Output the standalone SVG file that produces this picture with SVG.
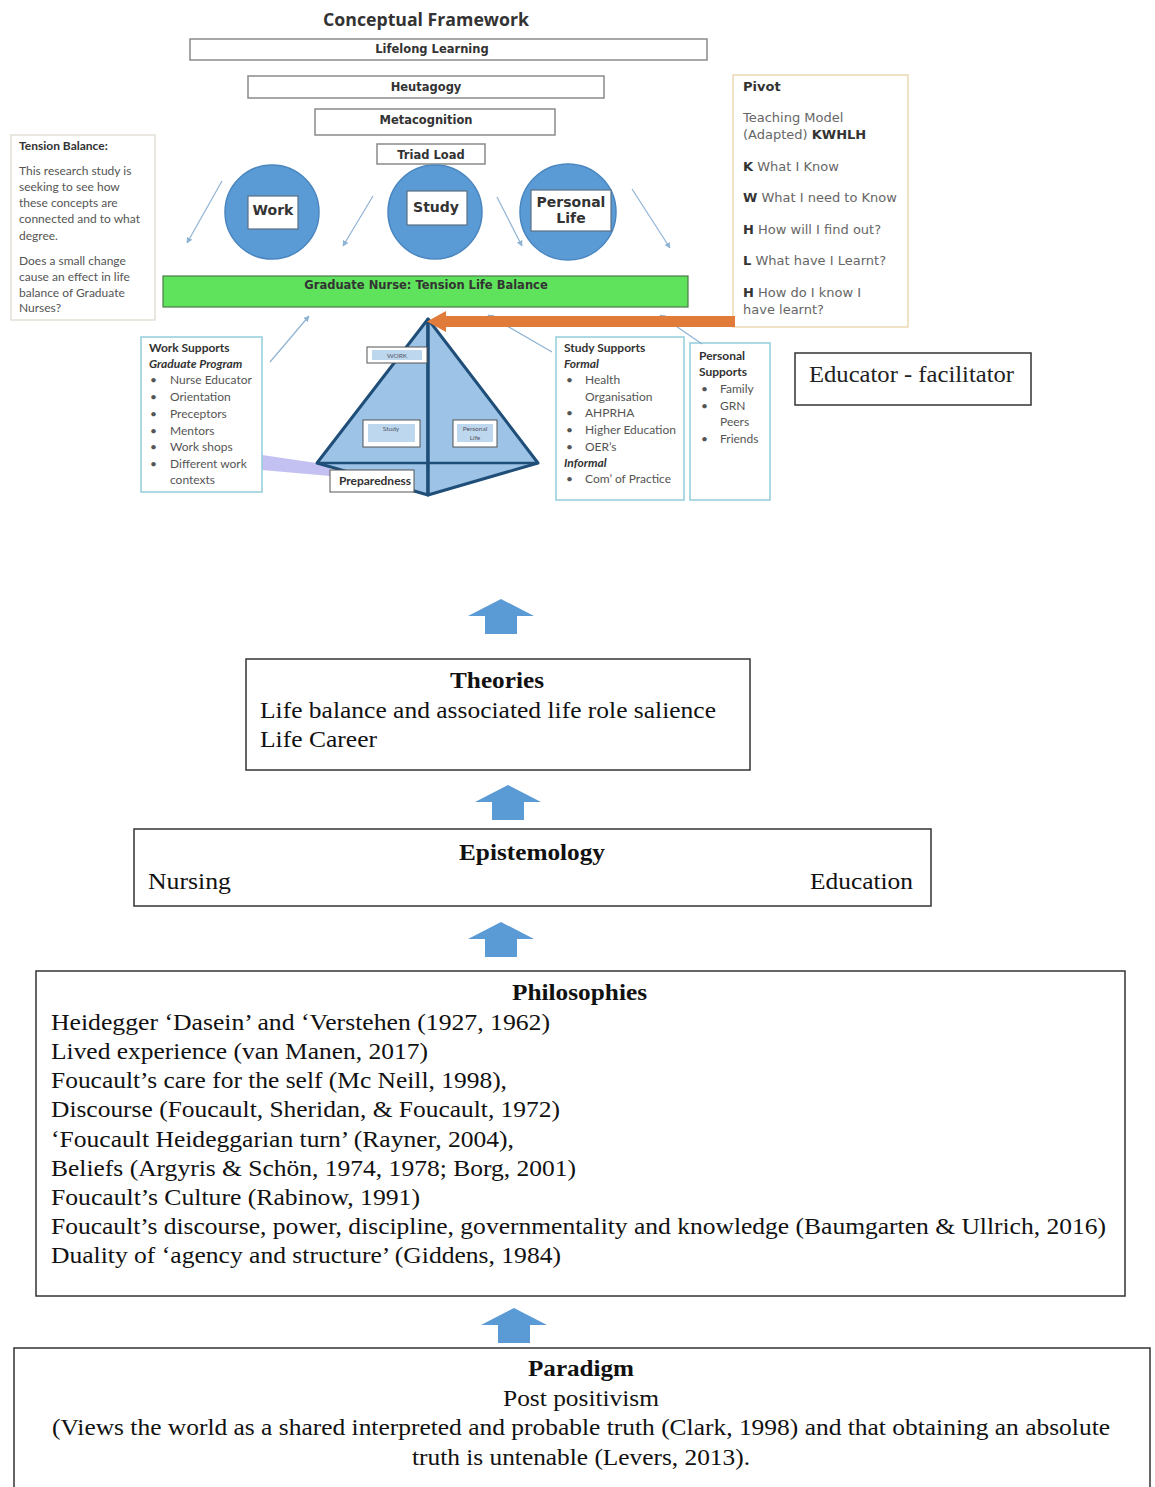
<svg xmlns="http://www.w3.org/2000/svg" width="1155" height="1487" viewBox="0 0 1155 1487">
  <style>
    .hdr { font-family: "DejaVu Sans", Verdana, sans-serif; font-weight: bold; font-size: 11.5px; fill: #333; text-anchor: middle; }
    .cl { font-size: 14px; }
    .box { fill: #fff; stroke: #8a8a8a; stroke-width: 1.5; }
    .circ { fill: #5b9bd5; stroke: #4a86bf; stroke-width: 1.5; }
    .inbox { fill: #fff; stroke: #5a6f85; stroke-width: 1.2; }
    .cal { font-family: Lato, "Open Sans", sans-serif; font-size: 12px; fill: #555; }
    .calb { font-family: Lato, "Open Sans", sans-serif; font-size: 12px; font-weight: bold; fill: #333; }
    .calbi { font-family: Lato, "Open Sans", sans-serif; font-size: 12px; font-weight: bold; font-style: italic; fill: #333; }
    .ver { font-family: "DejaVu Sans", Verdana, sans-serif; font-size: 13px; fill: #666; }
    .verb { font-family: "DejaVu Sans", Verdana, sans-serif; font-size: 13px; font-weight: bold; fill: #333; }
    .sup { fill: #fff; stroke: #93cddd; stroke-width: 1.5; }
    .thin { stroke: #8fb3d3; stroke-width: 1.2; fill: none; marker-end: url(#tip); }
    .frame { fill: #fff; stroke: #333; stroke-width: 1.5; }
    .tnr { font-family: "Liberation Serif", "Times New Roman", serif; font-size: 23px; fill: #111; }
    .tnrb { font-family: "Liberation Serif", "Times New Roman", serif; font-size: 23px; font-weight: bold; fill: #111; }
    .up { fill: #5b9bd5; }
    .pyr { fill: #9dc3e6; stroke: #1f4e79; stroke-width: 3; stroke-linejoin: round; }
    .plab { fill: #fff; stroke: #555; stroke-width: 1; }
    .plabin { fill: #bdd7ee; }
  </style>
  <defs>
    <marker id="tip" viewBox="0 0 10 10" refX="9" refY="5" markerWidth="5" markerHeight="5" orient="auto">
      <path d="M0,0 L10,5 L0,10 z" fill="#8fb3d3"/>
    </marker>
    <path id="uparrow" d="M-33,17 L0,0 L33,17 L16,17 L16,35 L-16,35 L-16,17 z"/>
  </defs>

  <!-- ===== Conceptual framework (top) ===== -->
  <text x="426" y="26" font-family="'Open Sans', 'DejaVu Sans', sans-serif" font-weight="bold" font-size="17.7" fill="#333" text-anchor="middle">Conceptual Framework</text>

  <g id="lifelong">
    <rect class="box" x="190" y="39" width="517" height="21"/>
    <text class="hdr" x="432" y="53">Lifelong Learning</text>
  </g>
  <g id="heutagogy">
    <rect class="box" x="248" y="76" width="356" height="22"/>
    <text class="hdr" x="426" y="91">Heutagogy</text>
  </g>
  <g id="metacognition">
    <rect class="box" x="315" y="109" width="240" height="26"/>
    <text class="hdr" x="426" y="124">Metacognition</text>
  </g>
  <g id="triad-load">
    <rect class="box" x="377" y="144" width="108" height="20"/>
    <text class="hdr" x="431" y="159" font-size="12.5">Triad Load</text>
  </g>

  <g id="work-circle">
    <circle class="circ" cx="272" cy="212" r="47"/>
    <rect class="inbox" x="248" y="196" width="50" height="33"/>
    <text class="hdr cl" x="273" y="215">Work</text>
  </g>
  <g id="study-circle">
    <circle class="circ" cx="435" cy="212" r="47"/>
    <rect class="inbox" x="407" y="191" width="60" height="34"/>
    <text class="hdr cl" x="436" y="212">Study</text>
  </g>
  <g id="personal-circle">
    <circle class="circ" cx="568" cy="212" r="48"/>
    <rect class="inbox" x="531" y="190" width="80" height="41"/>
    <text class="hdr cl" x="571" y="207">Personal</text>
    <text class="hdr cl" x="571" y="223">Life</text>
  </g>

  <g id="balance-bar">
    <rect x="163" y="276" width="525" height="31" fill="#5fe35c" stroke="#4a7a4a" stroke-width="1.2"/>
    <text class="hdr" x="426" y="289" font-size="13.5" fill="#222">Graduate Nurse: Tension Life Balance</text>
  </g>

  <g id="tension-balance">
    <rect x="11" y="135" width="144" height="185" fill="#fff" stroke="#e4e0d6" stroke-width="1.5"/>
    <text class="calb" x="19" y="150" font-size="11">Tension Balance:</text>
    <text class="cal" x="19" y="175">This research study is</text>
    <text class="cal" x="19" y="191">seeking to see how</text>
    <text class="cal" x="19" y="207">these concepts are</text>
    <text class="cal" x="19" y="223">connected and to what</text>
    <text class="cal" x="19" y="240">degree.</text>
    <text class="cal" x="19" y="265">Does a small change</text>
    <text class="cal" x="19" y="281">cause an effect in life</text>
    <text class="cal" x="19" y="297">balance of Graduate</text>
    <text class="cal" x="19" y="312">Nurses?</text>
  </g>

  <g id="pivot">
    <rect x="733" y="75" width="175" height="252" fill="#fff" stroke="#ead9b4" stroke-width="1.5"/>
    <text class="verb" x="743" y="91">Pivot</text>
    <text class="ver" x="743" y="122">Teaching Model</text>
    <text class="ver" x="743" y="139">(Adapted) <tspan class="verb">KWHLH</tspan></text>
    <text class="ver" x="743" y="171"><tspan class="verb">K</tspan> What I Know</text>
    <text class="ver" x="743" y="202"><tspan class="verb">W</tspan> What I need to Know</text>
    <text class="ver" x="743" y="234"><tspan class="verb">H</tspan> How will I find out?</text>
    <text class="ver" x="743" y="265"><tspan class="verb">L</tspan> What have I Learnt?</text>
    <text class="ver" x="743" y="297"><tspan class="verb">H</tspan> How do I know I</text>
    <text class="ver" x="743" y="314">have learnt?</text>
  </g>

  <!-- lavender band linking work supports to preparedness -->
  <polygon points="262,455 330,465 330,476 262,470" fill="#b9b6ee" opacity="0.85"/>

  <g id="pyramid">
    <polygon class="pyr" points="428,319 317,463 428,495"/>
    <polygon class="pyr" points="428,319 538,463 428,495"/>
    <line x1="317" y1="463" x2="538" y2="463" stroke="#1f4e79" stroke-width="2.5"/>
    <line x1="428" y1="319" x2="428" y2="495" stroke="#1f4e79" stroke-width="3"/>
    <rect class="plab" x="367" y="347" width="60" height="16"/>
    <rect class="plabin" x="372" y="350" width="50" height="10"/>
    <text x="397" y="358" font-family="Lato, sans-serif" font-size="6.5" fill="#556" text-anchor="middle">WORK</text>
    <rect class="plab" x="363" y="420" width="57" height="27"/>
    <rect class="plabin" x="368" y="424" width="47" height="18"/>
    <text x="391" y="431" font-family="Lato, sans-serif" font-size="6.5" fill="#556" text-anchor="middle">Study</text>
    <rect class="plab" x="453" y="420" width="44" height="27"/>
    <rect class="plabin" x="457" y="424" width="36" height="18"/>
    <text x="475" y="431" font-family="Lato, sans-serif" font-size="6.5" fill="#556" text-anchor="middle">Personal</text>
    <text x="475" y="440" font-family="Lato, sans-serif" font-size="6.5" fill="#556" text-anchor="middle">Life</text>
    <rect class="plab" x="330" y="470" width="84" height="22"/>
    <text x="375" y="485" font-family="Lato, sans-serif" font-size="12" font-weight="bold" fill="#333" text-anchor="middle">Preparedness</text>
  </g>

  <g id="work-supports">
    <rect class="sup" x="141" y="337" width="121" height="155"/>
    <text class="calb" x="149" y="352">Work Supports</text>
    <text class="calbi" x="149" y="368">Graduate Program</text>
    <g class="cal">
      <text x="150" y="384">•</text><text x="170" y="384">Nurse Educator</text>
      <text x="150" y="401">•</text><text x="170" y="401">Orientation</text>
      <text x="150" y="418">•</text><text x="170" y="418">Preceptors</text>
      <text x="150" y="435">•</text><text x="170" y="435">Mentors</text>
      <text x="150" y="451">•</text><text x="170" y="451">Work shops</text>
      <text x="150" y="468">•</text><text x="170" y="468">Different work</text>
      <text x="170" y="484">contexts</text>
    </g>
  </g>

  <g id="study-supports">
    <rect class="sup" x="556" y="337" width="128" height="163"/>
    <text class="calb" x="564" y="352">Study Supports</text>
    <text class="calbi" x="564" y="368">Formal</text>
    <g class="cal">
      <text x="566" y="384">•</text><text x="585" y="384">Health</text>
      <text x="585" y="401">Organisation</text>
      <text x="566" y="417">•</text><text x="585" y="417">AHPRHA</text>
      <text x="566" y="434">•</text><text x="585" y="434">Higher Education</text>
      <text x="566" y="451">•</text><text x="585" y="451">OER’s</text>
    </g>
    <text class="calbi" x="564" y="467">Informal</text>
    <g class="cal">
      <text x="566" y="483">•</text><text x="585" y="483">Com’ of Practice</text>
    </g>
  </g>

  <g id="personal-supports">
    <rect class="sup" x="690" y="343" width="80" height="157"/>
    <text class="calb" x="699" y="360">Personal</text>
    <text class="calb" x="699" y="376">Supports</text>
    <g class="cal">
      <text x="701" y="393">•</text><text x="720" y="393">Family</text>
      <text x="701" y="410">•</text><text x="720" y="410">GRN</text>
      <text x="720" y="426">Peers</text>
      <text x="701" y="443">•</text><text x="720" y="443">Friends</text>
    </g>
  </g>

  <g id="educator">
    <rect x="795" y="353" width="236" height="52" fill="#fff" stroke="#333" stroke-width="1.5"/>
    <text x="809" y="382" font-family="'Liberation Serif', 'Times New Roman', serif" font-size="23" fill="#222" textLength="205" lengthAdjust="spacingAndGlyphs">Educator - facilitator</text>
  </g>

  <g id="connectors">
    <line class="thin" x1="222" y1="181" x2="187" y2="243"/>
    <line class="thin" x1="373" y1="196" x2="343" y2="246"/>
    <line class="thin" x1="497" y1="197" x2="522" y2="246"/>
    <line class="thin" x1="632" y1="189" x2="670" y2="248"/>
    <line class="thin" x1="270" y1="362" x2="309" y2="316"/>
    <line class="thin" x1="552" y1="352" x2="488" y2="315"/>
    <line class="thin" x1="702" y1="344" x2="660" y2="315"/>
    <!-- pivot feeding back into the triad -->
    <rect x="444" y="316" width="291" height="11" fill="#e07b39"/>
    <polygon points="427,321.5 446,311 446,332" fill="#e07b39"/>
    <!-- block arrows between the layers -->
    <use href="#uparrow" class="up" x="501" y="599"/>
    <use href="#uparrow" class="up" x="508" y="785"/>
    <use href="#uparrow" class="up" x="501" y="922"/>
    <use href="#uparrow" class="up" x="514" y="1308"/>
  </g>

  <!-- ===== Research layers ===== -->
  <g id="theories">
    <rect class="frame" x="246" y="659" width="504" height="111"/>
    <text class="tnrb" x="450" y="688" textLength="94" lengthAdjust="spacingAndGlyphs">Theories</text>
    <text class="tnr" x="260" y="718" textLength="456" lengthAdjust="spacingAndGlyphs">Life balance and associated life role salience</text>
    <text class="tnr" x="260" y="747" textLength="117" lengthAdjust="spacingAndGlyphs">Life Career</text>
  </g>

  <g id="epistemology">
    <rect class="frame" x="134" y="829" width="797" height="77"/>
    <text class="tnrb" x="459" y="860" textLength="146" lengthAdjust="spacingAndGlyphs">Epistemology</text>
    <text class="tnr" x="148" y="889" textLength="83" lengthAdjust="spacingAndGlyphs">Nursing</text>
    <text class="tnr" x="810" y="889" textLength="103" lengthAdjust="spacingAndGlyphs">Education</text>
  </g>

  <g id="philosophies">
    <rect class="frame" x="36" y="971" width="1089" height="325"/>
    <text class="tnrb" x="512" y="1000" textLength="135" lengthAdjust="spacingAndGlyphs">Philosophies</text>
    <text class="tnr" x="51" y="1030" textLength="499" lengthAdjust="spacingAndGlyphs">Heidegger ‘Dasein’ and ‘Verstehen (1927, 1962)</text>
    <text class="tnr" x="51" y="1059" textLength="377" lengthAdjust="spacingAndGlyphs">Lived experience (van Manen, 2017)</text>
    <text class="tnr" x="51" y="1088" textLength="456" lengthAdjust="spacingAndGlyphs">Foucault’s care for the self (Mc Neill, 1998),</text>
    <text class="tnr" x="51" y="1117" textLength="509" lengthAdjust="spacingAndGlyphs">Discourse (Foucault, Sheridan, &amp; Foucault, 1972)</text>
    <text class="tnr" x="51" y="1147" textLength="463" lengthAdjust="spacingAndGlyphs">‘Foucault Heideggarian turn’ (Rayner, 2004),</text>
    <text class="tnr" x="51" y="1176" textLength="525" lengthAdjust="spacingAndGlyphs">Beliefs (Argyris &amp; Schön, 1974, 1978; Borg, 2001)</text>
    <text class="tnr" x="51" y="1205" textLength="369" lengthAdjust="spacingAndGlyphs">Foucault’s Culture (Rabinow, 1991)</text>
    <text class="tnr" x="51" y="1234" textLength="1055" lengthAdjust="spacingAndGlyphs">Foucault’s discourse, power, discipline, governmentality and knowledge (Baumgarten &amp; Ullrich, 2016)</text>
    <text class="tnr" x="51" y="1263" textLength="510" lengthAdjust="spacingAndGlyphs">Duality of ‘agency and structure’ (Giddens, 1984)</text>
  </g>

  <g id="paradigm">
    <rect class="frame" x="14" y="1348" width="1136" height="145"/>
    <text class="tnrb" x="528" y="1376" textLength="106" lengthAdjust="spacingAndGlyphs">Paradigm</text>
    <text class="tnr" x="503" y="1406" textLength="156" lengthAdjust="spacingAndGlyphs">Post positivism</text>
    <text class="tnr" x="52" y="1435" textLength="1058" lengthAdjust="spacingAndGlyphs">(Views the world as a shared interpreted and probable truth (Clark, 1998) and that obtaining an absolute</text>
    <text class="tnr" x="412" y="1465" textLength="338" lengthAdjust="spacingAndGlyphs">truth is untenable (Levers, 2013).</text>
  </g>
</svg>
